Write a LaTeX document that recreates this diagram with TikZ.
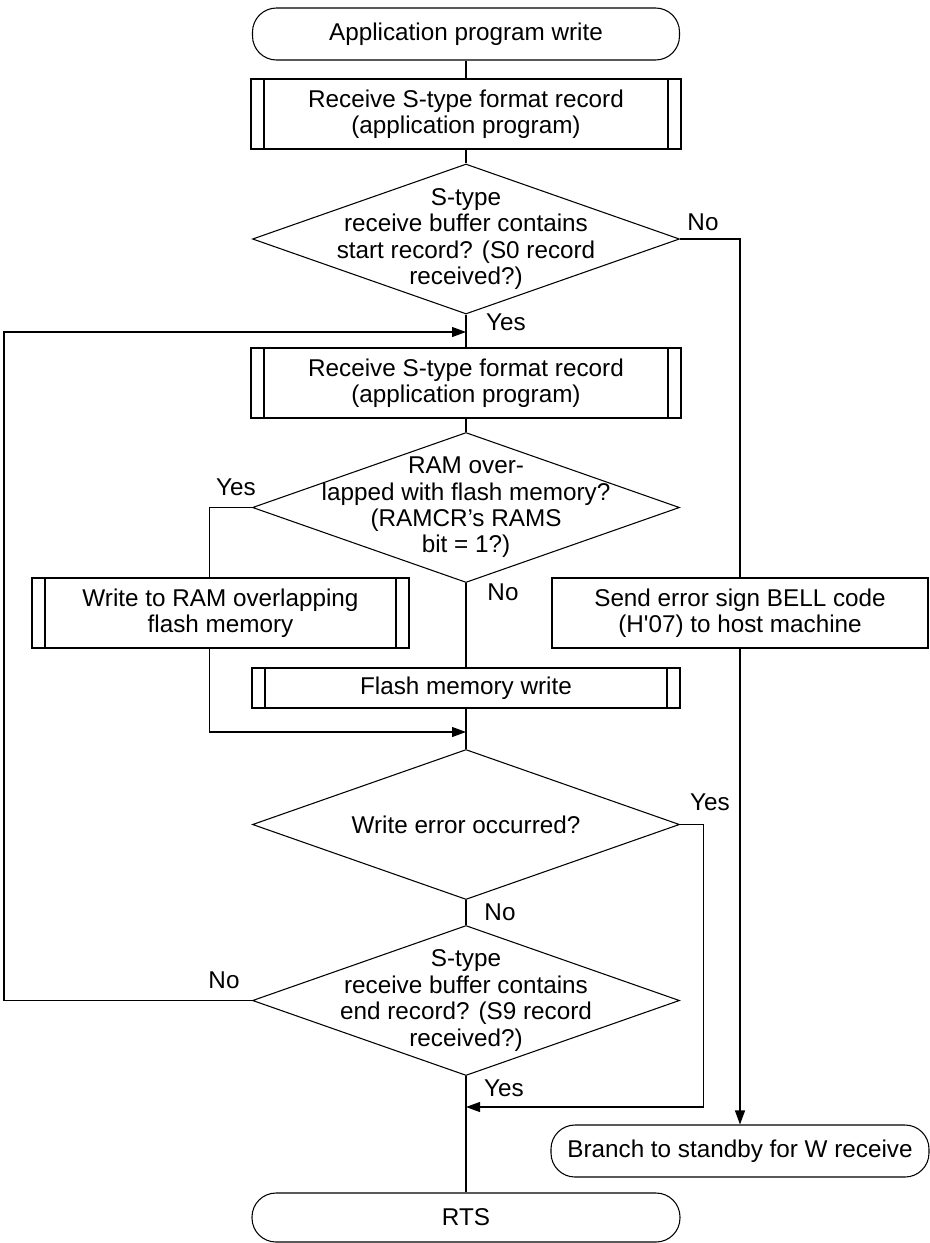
\documentclass[tikz,border=0pt]{standalone}
\usepackage{fontspec}
\setmainfont{Liberation Sans}
\usetikzlibrary{shapes.geometric,arrows.meta}
\tikzset{
  flow/.style={draw, line width=0.8pt, fill=white, align=center, inner sep=2pt},
  terminal/.style={flow, rectangle, rounded corners=18pt},
  process/.style={flow, rectangle},
  subproc/.style={flow, rectangle,
    path picture={
      \draw[line width=0.8pt] ([xshift=9.75pt]path picture bounding box.north west) -- ([xshift=9.75pt]path picture bounding box.south west);
      \draw[line width=0.8pt] ([xshift=-9.75pt]path picture bounding box.north east) -- ([xshift=-9.75pt]path picture bounding box.south east);
    }},
  decision/.style={draw, line width=0.8pt, fill=white, diamond, inner sep=0pt,
    minimum width=320.25pt, minimum height=112.5pt},
  line/.style={line width=0.8pt},
  arrow/.style={line, -{Triangle[length=10.5pt,width=7.5pt]}},
}
\begin{document}
\begin{tikzpicture}[x=0.75pt, y=-0.75pt, every node/.style={font=\fontsize{18.2}{19.8}\selectfont}]
\useasboundingbox (0,0) rectangle (930,1243);
% main column
\node[terminal, minimum width=320.25pt, minimum height=39pt] (start) at (466,34) {Application program write};
\node[subproc, minimum width=322.5pt, minimum height=52.5pt] (recv1) at (466,114) {Receive S-type format record\\(application program)};
\node[decision, label={[align=center]center:{S-type\\receive buffer contains\\start record? (S0 record\\received?)}}] (chkstart) at (466,239) {};
\node[subproc, minimum width=322.5pt, minimum height=52.5pt] (recv2) at (466,383) {Receive S-type format record\\(application program)};
\node[decision, label={[align=center]center:{RAM over-\\lapped with flash memory?\\(RAMCR's RAMS\\bit = 1?)}}] (chkram) at (466,507.5) {};
\node[subproc, minimum width=282.75pt, minimum height=52.5pt] (ramwr) at (220.5,613) {Write to RAM overlapping\\flash memory};
\node[process, minimum width=282pt, minimum height=52.5pt] (bell) at (740,613) {Send error sign BELL code\\(H\textquotesingle 07) to host machine};
\node[subproc, minimum width=321pt, minimum height=30pt] (flashwr) at (466,688) {Flash memory write};
\node[decision, label={center:{Write error occurred?}}] (chkerr) at (466,824.5) {};
\node[decision, label={[align=center]center:{S-type\\receive buffer contains\\end record? (S9 record\\received?)}}] (chkend) at (466,1000.5) {};
\node[terminal, minimum width=283.5pt, minimum height=39pt] (standby) at (740,1151) {Branch to standby for W receive};
\node[terminal, minimum width=321pt, minimum height=36.75pt] (rts) at (466,1217.5) {RTS};
% join points
\coordinate (join1) at (466,332);
\coordinate (join2) at (466,732);
\coordinate (join3) at (466,1107);
% connectors
\draw[line] (start) -- (recv1);
\draw[line] (recv1) -- (chkstart);
\draw[line] (chkstart) -- (recv2);
\draw[line] (chkstart.east) -| (bell.north);
\draw[arrow] (bell.south) -- (standby.north);
\draw[line] (recv2) -- (chkram);
\draw[line] (chkram.west) -| ([xshift=-8.6pt]ramwr.north);
\draw[line] (chkram) -- (flashwr);
\draw[arrow] ([xshift=-8.6pt]ramwr.south) |- (join2);
\draw[line] (flashwr) -- (chkerr);
\draw[line] (chkerr) -- (chkend);
\draw[arrow] (chkerr.east) -- ++(23,0) |- (join3);
\draw[line] (chkend) -- (rts);
\draw[arrow] (chkend.west) -- ++(-248,0) |- (join1);
% branch labels
\node (no1) at (703,222) {No};
\node (yes1) at (506,322) {Yes};
\node (yes2) at (236,487) {Yes};
\node (no2) at (503,592) {No};
\node (yes3) at (710,802) {Yes};
\node (no3) at (500,912) {No};
\node (no4) at (224,980) {No};
\node (yes4) at (504,1088) {Yes};
\end{tikzpicture}
\end{document}
